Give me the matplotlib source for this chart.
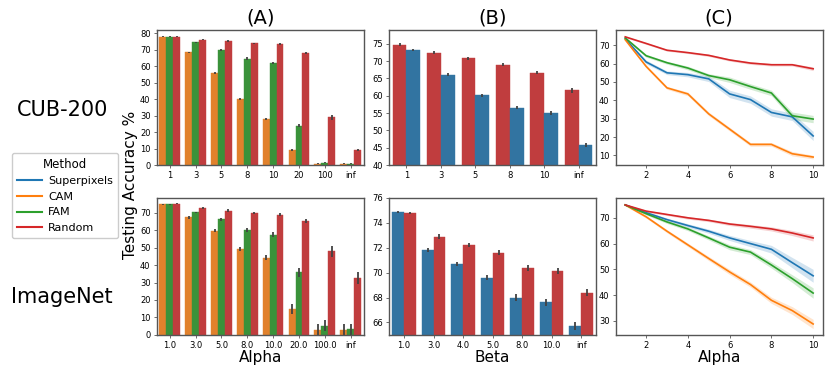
import numpy as np
import matplotlib
matplotlib.use('Agg')
import matplotlib.pyplot as plt
from matplotlib.lines import Line2D

# --- dane: panel A (CUB-200), hue = CAM, FAM, Random
a_top_cats = ['1', '3', '5', '8', '10', '20', '100', 'inf']
a_top_cam = [78.0, 68.5, 56.0, 40.0, 28.0, 9.0, 0.8, 0.7]
a_top_fam = [78.0, 74.5, 69.8, 64.5, 61.8, 23.8, 1.5, 0.7]
a_top_rnd = [78.0, 76.2, 75.3, 73.8, 73.3, 68.2, 29.0, 9.0]
a_top_cam_err = [0.3, 0.4, 0.6, 0.5, 0.5, 0.5, 0.4, 0.3]
a_top_fam_err = [0.3, 0.4, 0.5, 0.8, 0.7, 1.0, 0.5, 0.3]
a_top_rnd_err = [0.3, 0.3, 0.4, 0.4, 0.5, 0.7, 1.5, 0.6]

# --- panel A (ImageNet)
a_bot_cats = ['1.0', '3.0', '5.0', '8.0', '10.0', '20.0', '100.0', 'inf']
a_bot_cam = [75.0, 67.3, 59.7, 49.3, 44.3, 15.0, 3.0, 3.0]
a_bot_fam = [75.0, 70.2, 66.2, 60.2, 57.4, 35.8, 5.3, 3.3]
a_bot_rnd = [75.2, 72.8, 71.3, 69.8, 68.8, 65.3, 47.8, 32.5]
a_bot_cam_err = [0.3, 0.6, 1.0, 1.3, 1.5, 2.8, 3.2, 3.2]
a_bot_fam_err = [0.3, 0.5, 0.8, 1.2, 1.3, 2.5, 3.2, 3.2]
a_bot_rnd_err = [0.3, 0.5, 0.6, 0.7, 0.8, 1.2, 3.2, 3.5]

# --- panel B (CUB-200), hue = Random, Superpixels
b_top_cats = ['1', '3', '5', '8', '10', 'inf']
b_top_rnd = [74.8, 72.4, 70.8, 69.0, 66.7, 61.6]
b_top_sup = [73.1, 66.1, 60.1, 56.6, 55.1, 45.8]
b_top_rnd_err = [0.3, 0.4, 0.4, 0.4, 0.5, 0.7]
b_top_sup_err = [0.3, 0.5, 0.5, 0.5, 0.6, 0.7]

# --- panel B (ImageNet), hue = Superpixels, Random
b_bot_cats = ['1.0', '3.0', '4.0', '5.0', '8.0', '10.0', 'inf']
b_bot_sup = [74.9, 71.8, 70.7, 69.6, 68.0, 67.6, 65.7]
b_bot_rnd = [74.8, 72.9, 72.2, 71.6, 70.4, 70.1, 68.4]
b_bot_sup_err = [0.08, 0.15, 0.15, 0.18, 0.3, 0.28, 0.3]
b_bot_rnd_err = [0.08, 0.18, 0.15, 0.2, 0.25, 0.25, 0.3]

# --- panel C (linie)
c_x = [1, 2, 3, 4, 5, 6, 7, 8, 9, 10]
c_top_sup = [73.5, 60.9, 55.0, 54.0, 51.7, 43.5, 40.4, 33.4, 31.0, 20.6]
c_top_cam = [73.0, 58.5, 46.8, 43.5, 32.6, 24.3, 16.0, 16.0, 10.9, 9.1]
c_top_fam = [74.0, 64.3, 60.5, 57.6, 53.5, 51.2, 47.5, 44.0, 31.6, 29.8]
c_top_rnd = [74.6, 71.0, 67.3, 66.0, 64.5, 62.0, 60.3, 59.4, 59.4, 57.2]
c_top_sup_ci = [0.5, 1.0, 1.0, 1.2, 1.5, 2.0, 2.0, 2.0, 2.0, 2.5]
c_top_cam_ci = [0.5, 0.8, 0.8, 1.0, 1.0, 1.0, 1.0, 1.0, 1.2, 1.0]
c_top_fam_ci = [0.5, 0.8, 0.8, 1.0, 1.0, 1.5, 1.5, 1.5, 2.0, 2.0]
c_top_rnd_ci = [0.4, 0.5, 0.5, 0.5, 0.6, 0.6, 0.7, 0.7, 0.7, 1.0]

c_bot_sup = [75.0, 72.0, 69.3, 67.0, 64.8, 62.2, 60.0, 57.8, 52.6, 47.5]
c_bot_cam = [75.0, 70.4, 64.8, 59.5, 54.2, 49.0, 44.1, 38.0, 34.0, 28.8]
c_bot_fam = [75.0, 71.6, 68.4, 65.7, 62.2, 58.6, 56.7, 51.7, 46.4, 40.8]
c_bot_rnd = [75.0, 72.6, 71.3, 70.0, 69.0, 67.6, 66.7, 65.7, 64.1, 62.2]
c_bot_sup_ci = [0.3, 0.5, 0.6, 0.7, 0.8, 1.0, 1.2, 1.5, 2.0, 2.5]
c_bot_cam_ci = [0.3, 0.5, 0.6, 0.7, 0.8, 1.0, 1.0, 1.2, 1.5, 1.8]
c_bot_fam_ci = [0.3, 0.5, 0.6, 0.7, 0.8, 1.0, 1.0, 1.2, 1.5, 2.0]
c_bot_rnd_ci = [0.3, 0.4, 0.4, 0.5, 0.5, 0.6, 0.7, 0.8, 1.0, 1.2]

# kolory (seaborn, saturation 0.75 dla slupkow)
BLUE, ORANGE, GREEN, RED = '#3274a1', '#e1812c', '#3a923a', '#c03d3e'
L_BLUE, L_ORANGE, L_GREEN, L_RED = '#1f77b4', '#ff7f0e', '#2ca02c', '#d62728'
SPINE = '#555555'


def style(ax):
    for s in ax.spines.values():
        s.set_color(SPINE)
        s.set_linewidth(1.0)
    ax.tick_params(labelsize=6, length=2.5, width=0.6, color=SPINE, pad=2)


def bars(ax, cats, series, errs, colors):
    x = np.arange(len(cats))
    n = len(series)
    w = 0.8 / n
    for i, (vals, err, c) in enumerate(zip(series, errs, colors)):
        pos = x - 0.4 + w * (i + 0.5)
        ax.bar(pos, vals, width=w, color=c, edgecolor=c, linewidth=0.3)
        ax.errorbar(pos, vals, yerr=err, fmt='none', ecolor='#424242', elinewidth=1.3, capsize=0)
    ax.set_xticks(x)
    ax.set_xticklabels(cats)
    ax.set_xlim(-0.5, len(cats) - 0.5)
    style(ax)


def lines(ax, series, cis, colors):
    xs = np.array(c_x)
    for vals, ci, c in zip(series, cis, colors):
        v = np.array(vals)
        e = np.array(ci)
        ax.plot(xs, v, color=c, linewidth=1.2)
        ax.fill_between(xs, v - e, v + e, color=c, alpha=0.2, linewidth=0)
    ax.set_xticks([2, 4, 6, 8, 10])
    style(ax)


fig = plt.figure(figsize=(8.3, 3.7), dpi=100)

W = 0.249
ax_a1 = fig.add_axes([0.189, 0.554, W, 0.365])
ax_b1 = fig.add_axes([0.469, 0.554, W, 0.365])
ax_c1 = fig.add_axes([0.742, 0.554, W, 0.365])
ax_a2 = fig.add_axes([0.189, 0.095, W, 0.370])
ax_b2 = fig.add_axes([0.469, 0.095, W, 0.370])
ax_c2 = fig.add_axes([0.742, 0.095, W, 0.370])

# --- A
bars(ax_a1, a_top_cats, [a_top_cam, a_top_fam, a_top_rnd],
     [a_top_cam_err, a_top_fam_err, a_top_rnd_err], [ORANGE, GREEN, RED])
ax_a1.set_ylim(0, 82)
ax_a1.set_yticks(range(0, 81, 10))

bars(ax_a2, a_bot_cats, [a_bot_cam, a_bot_fam, a_bot_rnd],
     [a_bot_cam_err, a_bot_fam_err, a_bot_rnd_err], [ORANGE, GREEN, RED])
ax_a2.set_ylim(0, 78.5)
ax_a2.set_yticks(range(0, 71, 10))

# --- B
bars(ax_b1, b_top_cats, [b_top_rnd, b_top_sup],
     [b_top_rnd_err, b_top_sup_err], [RED, BLUE])
ax_b1.set_ylim(40, 79)
ax_b1.set_yticks(range(40, 76, 5))

bars(ax_b2, b_bot_cats, [b_bot_sup, b_bot_rnd],
     [b_bot_sup_err, b_bot_rnd_err], [BLUE, RED])
ax_b2.set_ylim(65, 76)
ax_b2.set_yticks(range(66, 77, 2))

# --- C
lines(ax_c1, [c_top_sup, c_top_cam, c_top_fam, c_top_rnd],
      [c_top_sup_ci, c_top_cam_ci, c_top_fam_ci, c_top_rnd_ci],
      [L_BLUE, L_ORANGE, L_GREEN, L_RED])
ax_c1.set_yticks(range(10, 71, 10))

lines(ax_c2, [c_bot_sup, c_bot_cam, c_bot_fam, c_bot_rnd],
      [c_bot_sup_ci, c_bot_cam_ci, c_bot_fam_ci, c_bot_rnd_ci],
      [L_BLUE, L_ORANGE, L_GREEN, L_RED])
ax_c2.set_yticks(range(30, 71, 10))

# --- opisy
for ax, t in [(ax_a1, '(A)'), (ax_b1, '(B)'), (ax_c1, '(C)')]:
    ax.set_title(t, fontsize=14, pad=5)

for ax, t in [(ax_a2, 'Alpha'), (ax_b2, 'Beta'), (ax_c2, 'Alpha')]:
    ax.set_xlabel(t, fontsize=11, labelpad=0)

fig.text(0.075, 0.703, 'CUB-200', fontsize=15, ha='center', va='center')
fig.text(0.075, 0.197, 'ImageNet', fontsize=15, ha='center', va='center')
fig.text(0.157, 0.5, 'Testing Accuracy %', fontsize=11, rotation=90, ha='center', va='center')

handles = [Line2D([], [], color=c, linewidth=1.5) for c in [L_BLUE, L_ORANGE, L_GREEN, L_RED]]
fig.legend(handles, ['Superpixels', 'CAM', 'FAM', 'Random'], title='Method',
           loc='upper left', bbox_to_anchor=(0.008, 0.602), fontsize=8, title_fontsize=8.5,
           handlelength=2.2, handletextpad=0.6, borderpad=0.45, labelspacing=0.5,
           framealpha=1, edgecolor='#cccccc')

fig.savefig('out.png', dpi=100)
